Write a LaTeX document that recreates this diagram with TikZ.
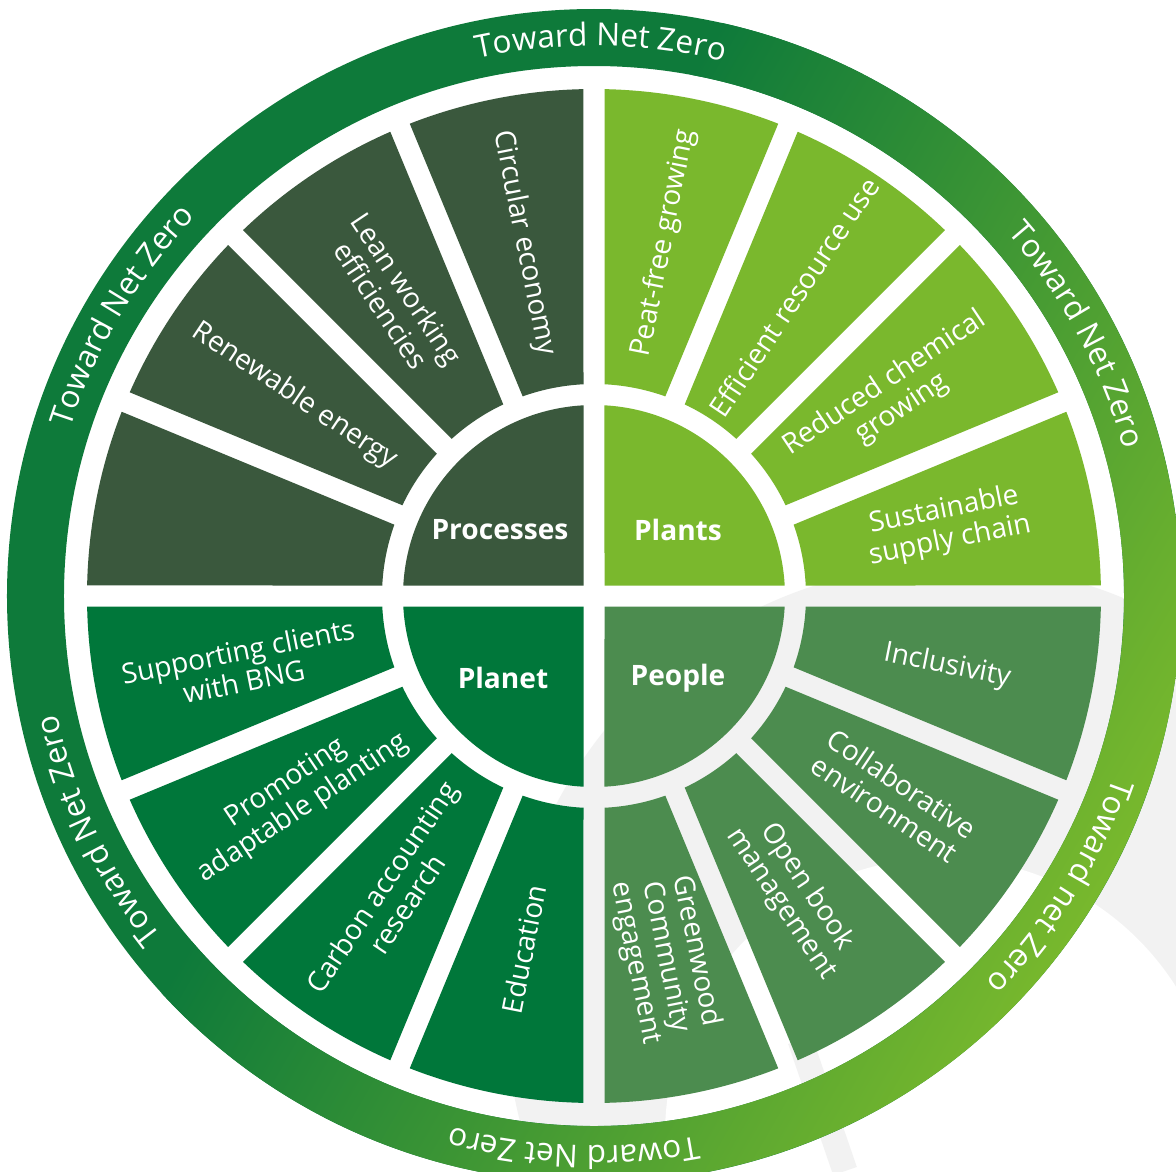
\documentclass[tikz,border=0pt]{standalone}
\usepackage{fontspec}
\setmainfont{Open Sans}
\usetikzlibrary{decorations.text}
\definecolor{procgreen}{RGB}{58,88,61}
\definecolor{plantgreen}{RGB}{122,184,45}
\definecolor{planetgreen}{RGB}{0,119,58}
\definecolor{peoplegreen}{RGB}{76,140,79}
\definecolor{ringdark}{RGB}{14,122,58}
\definecolor{ringlight}{RGB}{128,189,44}
\definecolor{markgray}{RGB}{242,242,242}
\newcommand{\ringfont}{\fontsize{18}{18}\selectfont}

\begin{document}
\begin{tikzpicture}[x=0.02cm, y=0.02cm,
  seglabel/.style={text=white, font=\fontsize{16}{17.5}\selectfont, align=center, inner sep=0pt},
  hublabel/.style={text=white, font=\fontsize{16}{17}\selectfont\bfseries, inner sep=0pt},
  ringtext/.style={decorate, decoration={text along path, text align=center, text={|\ringfont\color{white}|#1}}}]
\useasboundingbox (-594,-575) rectangle (582,596);
\fill[white] (-594,-575) rectangle (582,596);
\begin{scope}
\clip (-594,-575) rectangle (582,596);
\fill[markgray] (358,-414) circle[radius=446];
\fill[white] (348,-539) circle[radius=277];
\draw[markgray, line width=0.5cm] (206,-444) -- (251,-575);
\end{scope}

\fill[ringdark, even odd rule] (0,0) circle[radius=587] (0,0) circle[radius=530];
\begin{scope}[transform canvas={rotate=-30}, even odd rule]
\clip (0,0) circle[radius=587] (0,0) circle[radius=530];
\shade[left color=ringdark, right color=ringlight] (-176,-600) rectangle (646,600);
\end{scope}

\fill[procgreen] (91.19:507) arc[start angle=91.19, end angle=111.31, radius=507] -- (109.66:212) arc[start angle=109.66, end angle=92.84, radius=212] -- cycle;
\fill[procgreen] (113.69:507) arc[start angle=113.69, end angle=133.81, radius=507] -- (132.16:212) arc[start angle=132.16, end angle=115.34, radius=212] -- cycle;
\fill[procgreen] (136.19:507) arc[start angle=136.19, end angle=156.31, radius=507] -- (154.66:212) arc[start angle=154.66, end angle=137.84, radius=212] -- cycle;
\fill[procgreen] (158.69:507) arc[start angle=158.69, end angle=178.81, radius=507] -- (177.16:212) arc[start angle=177.16, end angle=160.34, radius=212] -- cycle;

\fill[plantgreen] (1.19:507) arc[start angle=1.19, end angle=21.31, radius=507] -- (19.66:212) arc[start angle=19.66, end angle=2.84, radius=212] -- cycle;
\fill[plantgreen] (23.69:507) arc[start angle=23.69, end angle=43.81, radius=507] -- (42.16:212) arc[start angle=42.16, end angle=25.34, radius=212] -- cycle;
\fill[plantgreen] (46.19:507) arc[start angle=46.19, end angle=66.31, radius=507] -- (64.66:212) arc[start angle=64.66, end angle=47.84, radius=212] -- cycle;
\fill[plantgreen] (68.69:507) arc[start angle=68.69, end angle=88.81, radius=507] -- (87.16:212) arc[start angle=87.16, end angle=70.34, radius=212] -- cycle;

\fill[planetgreen] (181.19:507) arc[start angle=181.19, end angle=201.31, radius=507] -- (199.66:212) arc[start angle=199.66, end angle=182.84, radius=212] -- cycle;
\fill[planetgreen] (203.69:507) arc[start angle=203.69, end angle=223.81, radius=507] -- (222.16:212) arc[start angle=222.16, end angle=205.34, radius=212] -- cycle;
\fill[planetgreen] (226.19:507) arc[start angle=226.19, end angle=246.31, radius=507] -- (244.66:212) arc[start angle=244.66, end angle=227.84, radius=212] -- cycle;
\fill[planetgreen] (248.69:507) arc[start angle=248.69, end angle=268.81, radius=507] -- (267.16:212) arc[start angle=267.16, end angle=250.34, radius=212] -- cycle;

\fill[peoplegreen] (271.19:507) arc[start angle=271.19, end angle=291.31, radius=507] -- (289.66:212) arc[start angle=289.66, end angle=272.84, radius=212] -- cycle;
\fill[peoplegreen] (293.69:507) arc[start angle=293.69, end angle=313.81, radius=507] -- (312.16:212) arc[start angle=312.16, end angle=295.34, radius=212] -- cycle;
\fill[peoplegreen] (316.19:507) arc[start angle=316.19, end angle=336.31, radius=507] -- (334.66:212) arc[start angle=334.66, end angle=317.84, radius=212] -- cycle;
\fill[peoplegreen] (338.69:507) arc[start angle=338.69, end angle=358.81, radius=507] -- (357.16:212) arc[start angle=357.16, end angle=340.34, radius=212] -- cycle;

\fill[procgreen] (-10.5,10.5) -- (93.15:191) arc[start angle=93.15, end angle=176.85, radius=191] -- cycle;
\fill[plantgreen] (10.5,10.5) -- (3.15:191) arc[start angle=3.15, end angle=86.85, radius=191] -- cycle;
\fill[planetgreen] (-10.5,-10.5) -- (183.15:191) arc[start angle=183.15, end angle=266.85, radius=191] -- cycle;
\fill[peoplegreen] (10.5,-10.5) -- (273.15:191) arc[start angle=273.15, end angle=356.85, radius=191] -- cycle;

\node[hublabel] (processes) at (-94,66) {Processes};
\node[hublabel] (plants) at (84,66) {Plants};
\node[hublabel] (planet) at (-91,-82) {Planet};
\node[hublabel] (people) at (84,-82) {People};

\node[seglabel, rotate=-78.75] (circular) at (101.25:360) {Circular economy};
\node[seglabel, rotate=-56.25] (lean) at (123.75:360) {Lean working\\efficiencies};
\node[seglabel, rotate=-33.75] (renewable) at (146.25:360) {Renewable energy};
\node[seglabel, rotate=78.75] (peat) at (78.75:360) {Peat-free growing};
\node[seglabel, rotate=56.25] (efficient) at (56.25:360) {Efficient resource use};
\node[seglabel, rotate=33.75] (reduced) at (33.75:360) {Reduced chemical\\growing};
\node[seglabel, rotate=11.25] (sustainable) at (11.25:360) {Sustainable\\supply chain};
\node[seglabel, rotate=-11.25] (inclusivity) at (-11.25:360) {Inclusivity};
\node[seglabel, rotate=-33.75] (collab) at (-33.75:360) {Collaborative\\environment};
\node[seglabel, rotate=-56.25] (openbook) at (-56.25:360) {Open book\\management};
\node[seglabel, rotate=-78.75] (greenwood) at (-78.75:368) {Greenwood\\Community\\engagement};
\node[seglabel, rotate=78.75] (education) at (-101.25:360) {Education};
\node[seglabel, rotate=56.25] (carbon) at (-123.75:360) {Carbon accounting\\research};
\node[seglabel, rotate=33.75] (promoting) at (-146.25:360) {Promoting\\adaptable planting};
\node[seglabel, rotate=11.25] (supporting) at (-168.75:360) {Supporting clients\\with BNG};

\path[ringtext={Toward Net Zero}] (129.3:550) arc[start angle=129.3, end angle=49.3, radius=550];
\path[ringtext={Toward Net Zero}] (189.3:550) arc[start angle=189.3, end angle=109.3, radius=550];
\path[ringtext={Toward Net Zero}] (245.3:550) arc[start angle=245.3, end angle=165.3, radius=550];
\path[ringtext={Toward Net Zero}] (307.9:550) arc[start angle=307.9, end angle=227.9, radius=550];
\path[ringtext={Toward net Zero}] (368.1:550) arc[start angle=368.1, end angle=288.1, radius=550];
\path[ringtext={Toward Net Zero}] (68.4:550) arc[start angle=68.4, end angle=-11.6, radius=550];
\end{tikzpicture}
\end{document}
